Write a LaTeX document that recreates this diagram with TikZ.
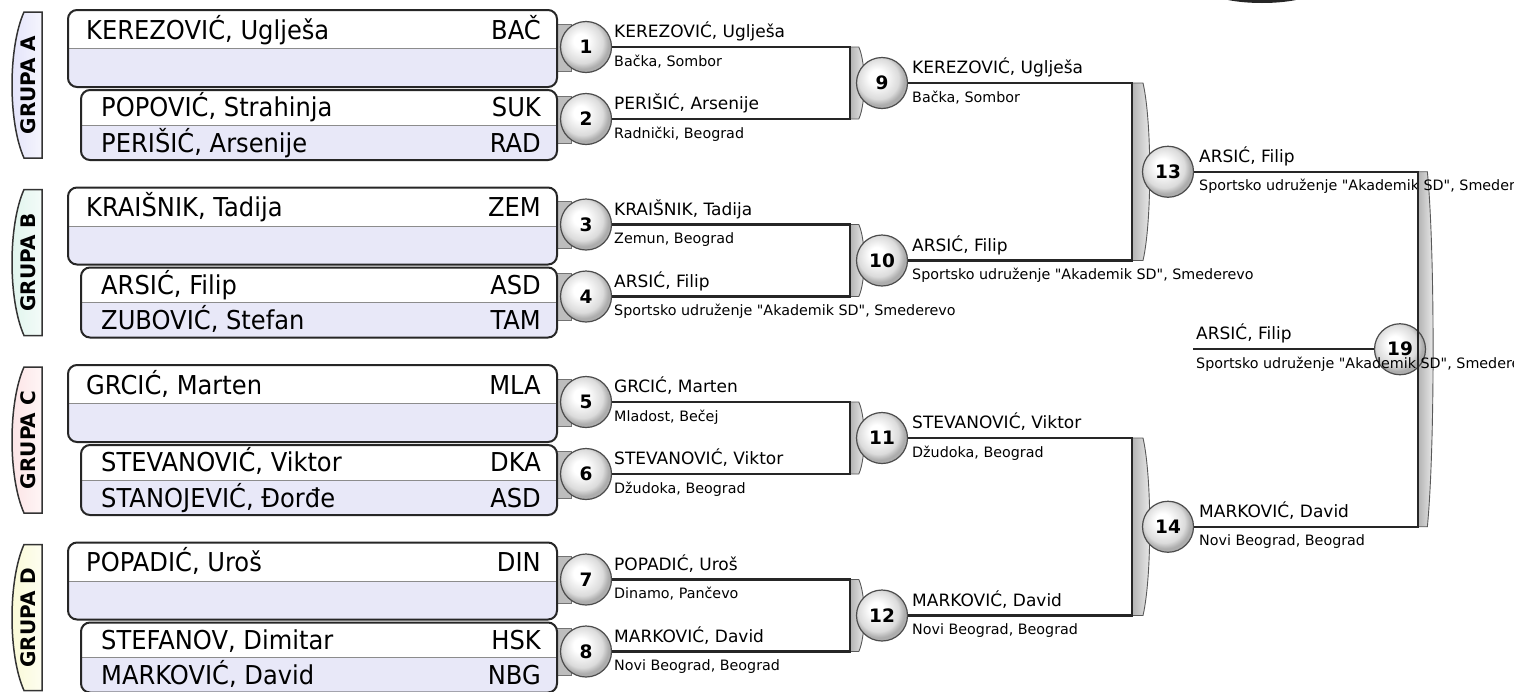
\documentclass[tikz,border=0pt]{standalone}
\usepackage{fontspec}
\setmainfont{DejaVu Sans}[Ligatures=TeXOff]
\newfontfamily\bigfont{DejaVu Sans}[FakeStretch=0.93,Ligatures=TeXOff]
\usetikzlibrary{calc}
\definecolor{rowc}{RGB}{232,232,248}
\definecolor{labA}{RGB}{226,226,250}
\definecolor{labB}{RGB}{222,244,236}
\definecolor{labC}{RGB}{252,226,228}
\definecolor{labD}{RGB}{250,250,212}
\pgfdeclareradialshading{ballg}{\pgfpoint{-6bp}{7bp}}{color(0bp)=(white); color(7bp)=(white); color(20bp)=(black!14); color(25bp)=(black!32); color(50bp)=(black!32)}
\tikzset{
  rnd/.style={circle, draw=black!70, line width=1.2pt, shading=ballg, minimum size=51pt, inner sep=0pt, font=\fontsize{18.5}{18.5}\selectfont\bfseries},
  pname/.style={anchor=base west, inner sep=0pt, font=\fontsize{17}{18}\selectfont},
  pclub/.style={anchor=base west, inner sep=0pt, font=\fontsize{14.3}{16}\selectfont},
  wire/.style={line width=2.4pt, draw=black!85},
  brk/.style={left color=black!30, right color=black!6, draw=black!65, line width=0.9pt},
  tabst/.style={fill=black!26, draw=black!55, line width=0.8pt},
  bigname/.style={anchor=base west, inner sep=0pt, font=\bigfont\fontsize{26}{28}\selectfont},
  ccode/.style={anchor=base east, inner sep=0pt, font=\bigfont\fontsize{26}{28}\selectfont},
  boxline/.style={draw=black!85, line width=2pt, rounded corners=9pt},
  divl/.style={draw=black!45, line width=0.8pt},
  glab/.style={rotate=90, inner sep=0pt, font=\fontsize{20}{20}\selectfont\bfseries},
  labshape/.style={draw=black!80, line width=1.5pt},
}
\newcommand\grp[9]{%
 \path[labshape, left color=#3, right color=#3!35!white] (42,#1+2) -- (24,#1+2) .. controls (8,#1+38) and (8,#1+112) .. (24,#1+148) -- (42,#1+148) -- cycle;
 \node[glab] (lab#2) at (28,#1+75) {GRUPA #2};
 \filldraw[tabst] (556,#1+14) rectangle (571,#1+61);
 \filldraw[tabst] (556,#1+86) rectangle (571,#1+133);
 \begin{scope}
  \clip[rounded corners=9pt] (68,#1) rectangle (557,#1+77);
  \fill[rowc] (68,#1) rectangle (557,#1+77);
  \fill[white] (68,#1) rectangle (557,#1+38.5);
 \end{scope}
 \draw[divl] (68,#1+38.5) -- (557,#1+38.5);
 \draw[boxline] (68,#1) rectangle (557,#1+77);
 \begin{scope}
  \clip[rounded corners=9pt] (81,#1+80) rectangle (557,#1+150);
  \fill[rowc] (81,#1+80) rectangle (557,#1+150);
  \fill[white] (81,#1+80) rectangle (557,#1+115);
 \end{scope}
 \draw[divl] (81,#1+115) -- (557,#1+115);
 \draw[boxline] (81,#1+80) rectangle (557,#1+150);
 \node[bigname] (p#2a) at (86,#1+29) {#4};
 \node[ccode] (c#2a) at (541,#1+29) {#5};
 \node[bigname] (p#2b) at (101,#1+106.5) {#6};
 \node[ccode] (c#2b) at (541,#1+106.5) {#7};
 \node[bigname] (p#2c) at (101,#1+142) {#8};
 \node[ccode] (c#2c) at (541,#1+142) {#9};
}
\newcommand\brkt[4]{%
  \path[brk] (#1,#2) -- ({#1+0.55*#4},#2) .. controls ({#1+#4},{#2+0.22*(#3-#2)}) and ({#1+#4},{#3-0.22*(#3-#2)}) .. ({#1+0.55*#4},#3) -- (#1,#3) -- cycle;}
\newcommand\mtch[6]{%
  \node[rnd] (m#1) at (#2,#3) {#1};
  \node[pname] (n#1) at (#6,#3-9.5) {#4};
  \node[pclub] (k#1) at (#6,#3+19) {#5};}
\begin{document}
\begin{tikzpicture}[x=1pt,y=-1pt]
\useasboundingbox (0,0) rectangle (1514,691);
\fill[white] (0,0) rectangle (1514,691);
\fill[black!85] (1262,-11) ellipse [x radius=55, y radius=14];
\grp{10}{A}{labA}{KEREZOVIĆ, Uglješa}{BAČ}{POPOVIĆ, Strahinja}{SUK}{PERIŠIĆ, Arsenije}{RAD}
\grp{187.5}{B}{labB}{KRAIŠNIK, Tadija}{ZEM}{ARSIĆ, Filip}{ASD}{ZUBOVIĆ, Stefan}{TAM}
\grp{365}{C}{labC}{GRCIĆ, Marten}{MLA}{STEVANOVIĆ, Viktor}{DKA}{STANOJEVIĆ, Đorđe}{ASD}
\grp{542.5}{D}{labD}{POPADIĆ, Uroš}{DIN}{STEFANOV, Dimitar}{HSK}{MARKOVIĆ, David}{NBG}
% brackets
\brkt{850}{47}{119}{16}
\brkt{850}{224.5}{296.5}{16}
\brkt{850}{402}{474}{16}
\brkt{850}{579.5}{651.5}{16}
\brkt{1132}{83}{260.5}{20}
\brkt{1132}{438}{615.5}{20}
\brkt{1418}{171.75}{526.75}{17}
% matches
\mtch{1}{586}{47}{KEREZOVIĆ, Uglješa}{Bačka, Sombor}{614}
\mtch{2}{586}{119}{PERIŠIĆ, Arsenije}{Radnički, Beograd}{614}
\mtch{3}{586}{224.5}{KRAIŠNIK, Tadija}{Zemun, Beograd}{614}
\mtch{4}{586}{296.5}{ARSIĆ, Filip}{Sportsko udruženje "Akademik SD", Smederevo}{614}
\mtch{5}{586}{402}{GRCIĆ, Marten}{Mladost, Bečej}{614}
\mtch{6}{586}{474}{STEVANOVIĆ, Viktor}{Džudoka, Beograd}{614}
\mtch{7}{586}{579.5}{POPADIĆ, Uroš}{Dinamo, Pančevo}{614}
\mtch{8}{586}{651.5}{MARKOVIĆ, David}{Novi Beograd, Beograd}{614}
\mtch{9}{882}{83}{KEREZOVIĆ, Uglješa}{Bačka, Sombor}{912}
\mtch{10}{882}{260.5}{ARSIĆ, Filip}{Sportsko udruženje "Akademik SD", Smederevo}{912}
\mtch{11}{882}{438}{STEVANOVIĆ, Viktor}{Džudoka, Beograd}{912}
\mtch{12}{882}{615.5}{MARKOVIĆ, David}{Novi Beograd, Beograd}{912}
\mtch{13}{1168}{171.75}{ARSIĆ, Filip}{Sportsko udruženje "Akademik SD", Smederevo}{1199}
\mtch{14}{1168}{526.75}{MARKOVIĆ, David}{Novi Beograd, Beograd}{1199}
\mtch{19}{1400}{349.25}{ARSIĆ, Filip}{Sportsko udruženje "Akademik SD", Smederevo}{1196}
% connectors
\coordinate (q1a) at (850,47); \coordinate (q1b) at (850,119);
\coordinate (q2a) at (850,224.5); \coordinate (q2b) at (850,296.5);
\coordinate (q3a) at (850,402); \coordinate (q3b) at (850,474);
\coordinate (q4a) at (850,579.5); \coordinate (q4b) at (850,651.5);
\coordinate (q5a) at (1132,83); \coordinate (q5b) at (1132,260.5);
\coordinate (q6a) at (1132,438); \coordinate (q6b) at (1132,615.5);
\coordinate (q7a) at (1418,171.75); \coordinate (q7b) at (1418,526.75);
\coordinate (f19) at (1193,349.25);
\draw[wire] (m1) -- (q1a) -- (q1b) -- (m2);
\draw[wire] (m3) -- (q2a) -- (q2b) -- (m4);
\draw[wire] (m5) -- (q3a) -- (q3b) -- (m6);
\draw[wire] (m7) -- (q4a) -- (q4b) -- (m8);
\draw[wire] (m9) -- (q5a) -- (q5b) -- (m10);
\draw[wire] (m11) -- (q6a) -- (q6b) -- (m12);
\draw[wire] (m13) -- (q7a) -- (q7b) -- (m14);
\draw[wire] (f19) -- (m19);
\end{tikzpicture}
\end{document}
